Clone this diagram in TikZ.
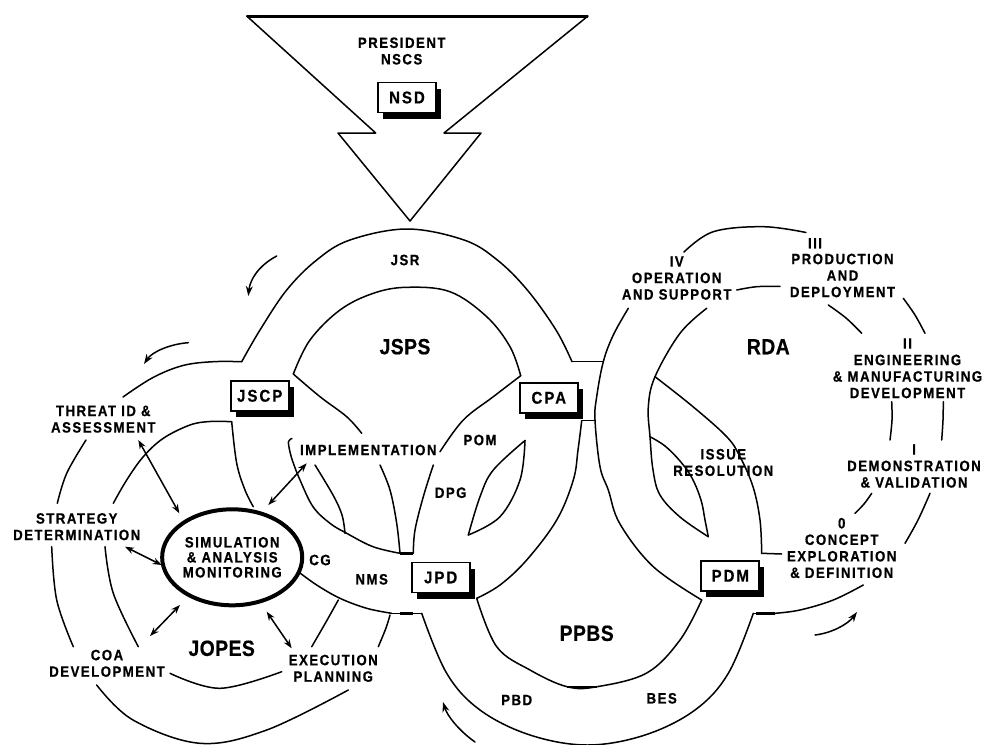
\documentclass[tikz,border=0pt]{standalone}
\usepackage{fontspec}
\newfontfamily\labf{Liberation Sans}[FakeStretch=0.88, LetterSpace=10, BoldFeatures={FakeBold=0.6}]
\newfontfamily\boxf{Liberation Sans}[FakeStretch=0.88, LetterSpace=12, BoldFeatures={FakeBold=0.6}]
\newfontfamily\bigf{Liberation Sans}[FakeStretch=0.88, LetterSpace=2, BoldFeatures={FakeBold=0.6}]
\usetikzlibrary{arrows.meta,shapes.geometric,shadows}
\begin{document}
\begin{tikzpicture}[x=1pt,y=-1pt,
  ln/.style={line width=1.5pt, line cap=round, line join=round},
  thk/.style={line width=3pt},
  lab/.style={font=\labf\bfseries\fontsize{15}{16.5}\selectfont, align=center, inner sep=0pt},
  biglab/.style={font=\bigf\bfseries\fontsize{22}{24}\selectfont, inner sep=0pt},
  boxn/.style={draw, line width=1.8pt, fill=white, minimum width=58pt, minimum height=30pt, inner sep=0pt,
    font=\boxf\bfseries\fontsize{17}{19}\selectfont,
    drop shadow={shadow xshift=5pt, shadow yshift=-6pt, opacity=1, fill=black}},
  dbl/.style={ln, {Stealth[length=9pt,width=6.5pt]}-{Stealth[length=9pt,width=6.5pt]}},
  flow/.style={ln, -{Stealth[length=10pt,width=7pt]}},
  sm/.style={ln}
]
\useasboundingbox (0,0) rectangle (984,744);

% ---------- top arrow (President / NSCS)
\draw[ln] (246.7,16) -- (375.7,133) -- (338,133) -- (410,221) -- (481,133) -- (444,133) -- (588,16);
\draw[thk] (246.7,16) -- (588,16);

% ---------- JSPS
\draw[sm] plot[smooth,tension=0.6] coordinates {(241.7,361.7) (260,330) (286.7,290) (316.7,260) (350,240) (407,229) (464,240) (497.3,260) (527.3,290) (556,330) (572,361.7)};
\draw[ln] (572,361.7) -- (603.3,361.7);
\draw[sm] plot[smooth,tension=0.6] coordinates {(293.3,374) (310,340) (340,310) (373.3,293.3) (406.7,287.3) (450,291.7) (486.7,316.7) (510,346.7) (520.7,375.7)};
\draw[sm] plot[smooth,tension=0.6] coordinates {(293.3,374) (320,396.7) (346.7,416.7) (361.7,433.3)};
\draw[sm] plot[smooth,tension=0.6] coordinates {(380,465) (390,490) (396.7,523.3) (400,553.3)};
\draw[sm] plot[smooth,tension=0.6] coordinates {(520.7,375.7) (493.3,396.7) (463.3,420) (440,451.7)};
\draw[sm] plot[smooth,tension=0.6] coordinates {(433.3,465) (423.3,496.7) (415,530) (413.3,553.3)};
\draw[thk] (400,553.3) -- (413.3,553.3);
% DPG / POM lens
\draw[sm] plot[smooth,tension=0.6] coordinates {(525,440.5) (493.3,470) (480,496.7) (468.3,535)};
\draw[sm] plot[smooth,tension=0.6] coordinates {(525,440.5) (520,480) (500,516.7) (468.3,535)};

% ---------- JOPES
\draw[sm] plot[smooth,tension=0.6] coordinates {(241.7,361.7) (213,361.7) (183,365.5) (153,377.5) (123,397)};
\draw[sm] plot[smooth,tension=0.6] coordinates {(86,440) (66.7,473.3) (57.3,503.3)};
\draw[sm] plot[smooth,tension=0.6] coordinates {(51.7,546.7) (56.7,600) (73.3,646.7)};
\draw[sm] plot[smooth,tension=0.6] coordinates {(96.7,685) (133,720) (200,743.3) (266.7,730) (348.3,690)};
\draw[sm] plot[smooth,tension=0.6] coordinates {(378.3,646.7) (386,628) (390,615)};
\draw[sm] plot[smooth,tension=0.6] coordinates {(231.7,421.7) (210,421.5) (190,425) (163.3,438.3) (143.3,456.7) (126.7,480) (113.3,503.3)};
\draw[sm] plot[smooth,tension=0.6] coordinates {(105,546.7) (113.3,593.3) (138.3,646.7)};
\draw[sm] plot[smooth,tension=0.6] coordinates {(170,673.3) (220,688.3) (281.7,671.7)};
\draw[sm] plot[smooth,tension=0.6] coordinates {(311.7,646.7) (326,622) (338.3,600)};
\draw[sm] plot[smooth,tension=0.6] coordinates {(231.7,421.7) (236.7,463.3) (245,490) (253.3,506.7)};
\draw[sm] plot[smooth,tension=0.6] coordinates {(292,438.5) (288.5,441.5) (290,452) (293.3,463) (300,480) (313,506.7) (330,523.3) (346.7,533.3) (373,546.7) (400,553.3)};
\draw[sm] plot[smooth,tension=0.6] coordinates {(315,465) (333,495) (342,515) (345,533.3)};
\draw[sm] plot[smooth,tension=0.6] coordinates {(298.3,571.7) (316.7,585) (340,598.3) (366.7,608.3) (391.7,613.3)};
\draw[ln] (391.7,613.3) -- (421.7,613.3);
\draw[thk] (400,613.3) -- (413,613.3);

% ---------- PPBS
\draw[sm] plot[smooth,tension=0.6] coordinates {(421.7,613.3) (446.7,673.3) (480,710) (530,735) (587.5,745) (645,735) (695,710) (728.3,673.3) (753.3,613.3)};
\draw[sm] plot[smooth,tension=0.6] coordinates {(476.7,598.3) (496.7,646.7) (530,670) (567,686.7) (597,686.7) (646.7,673) (680,640) (701.7,600)};
\draw[line width=2.2pt] (567,686.7) -- (597,686.7);
\draw[sm] plot[smooth,tension=0.6] coordinates {(581.7,420.7) (578,450) (573.3,480) (556.7,520) (526.7,560) (500,585) (476.7,598.3)};
\draw[ln] (581.7,420.7) -- (595,420.7);
\draw[ln] (753.3,613.3) -- (775,613.3);
\draw[thk] (756,613.3) -- (775,613.3);

% ---------- RDA
\draw[sm] plot[smooth,tension=0.6] coordinates {(628.3,308.3) (613.3,335) (603.3,361.7) (596.7,396.7) (595,420) (600,466.7) (608.3,490) (620,524) (653.3,566.7) (701.7,600)};
\draw[sm] plot[smooth,tension=0.6] coordinates {(684,252) (713.3,231.7) (763.3,226.7) (806,232.5)};
\draw[sm] plot[smooth,tension=0.6] coordinates {(736.7,290) (756.7,286.7) (780,286.3)};
\draw[sm] plot[smooth,tension=0.6] coordinates {(903.3,298.3) (915,315) (925,333.3)};
\draw[sm] plot[smooth,tension=0.6] coordinates {(828.3,305) (846,318) (861.7,333.3)};
\draw[sm] plot[smooth,tension=0.6] coordinates {(891.7,401.7) (892,420) (890,440)};
\draw[sm] plot[smooth,tension=0.6] coordinates {(943.3,401.7) (943,420) (941.7,440)};
\draw[sm] plot[smooth,tension=0.6] coordinates {(871.7,493.3) (864,504) (855,513.3)};
\draw[sm] plot[smooth,tension=0.6] coordinates {(930,493.3) (918,520) (905,543.3)};
\draw[sm] plot[smooth,tension=0.6] coordinates {(775,613.3) (800,610) (833.3,600) (863.3,585)};
\draw[sm] plot[smooth,tension=0.6] coordinates {(706.7,308.3) (680,333.3) (655,376.7) (648.3,406.7) (650,436.7) (653,470) (660,495) (680,517) (708.3,536.7)};
\draw[sm] plot[smooth,tension=0.6] coordinates {(650,436.7) (665,446) (680,461) (692,478) (701,500) (705,520) (708.3,536.7)};
\draw[sm] plot[smooth,tension=0.6] coordinates {(655,376.7) (693,406.7) (726.7,436.7) (740,456.7) (753,486.7) (760,520) (761.7,553.3)};
\draw[ln] (761.7,553.3) -- (781.7,554);

% ---------- boxes
\node[boxn] (nsd) at (407,97.5) {NSD};
\node[boxn] (jscp) at (259.7,395.8) {JSCP};
\node[boxn] (cpa) at (548.8,397.8) {CPA};
\node[boxn] (jpd) at (440.7,577.5) {JPD};
\node[boxn] (pdm) at (730.3,575.8) {PDM};

% ---------- ellipse
\node[draw, ellipse, line width=4pt, minimum width=127pt, minimum height=96pt, inner sep=0pt, lab, font=\labf\bfseries\fontsize{15}{15}\selectfont] (sim) at (232.2,557.3) {SIMULATION\\\& ANALYSIS\\MONITORING};

% ---------- labels
\node[lab] (pres) at (401.7,51) {PRESIDENT\\NSCS};
\node[lab] (jsr) at (405,260) {JSR};
\node[biglab] (jsps) at (405,346.7) {JSPS};
\node[biglab] (jopes) at (221.7,648.3) {JOPES};
\node[biglab] (ppbs) at (586.7,633.3) {PPBS};
\node[biglab] (rda) at (768.3,346.7) {RDA};
\node[lab] (threat) at (103.3,419.2) {THREAT ID \&\\ASSESSMENT};
\node[lab] (strat) at (76.7,526.7) {STRATEGY\\DETERMINATION};
\node[lab] (coa) at (107,663.3) {COA\\DEVELOPMENT};
\node[lab] (exec) at (333.3,668.3) {EXECUTION\\PLANNING};
\node[lab] (impl) at (368.3,450) {IMPLEMENTATION};
\node[lab] (pom) at (480,440) {POM};
\node[lab] (dpg) at (450.7,492.7) {DPG};
\node[lab] (cg) at (320,560) {CG};
\node[lab] (nms) at (371.7,579.3) {NMS};
\node[lab] (pbd) at (516.7,700) {PBD};
\node[lab] (bes) at (661.7,698.3) {BES};
\node[lab] (issue) at (723.3,462.5) {ISSUE\\RESOLUTION};
\node[lab] (iv) at (676.7,278) {IV\\OPERATION\\AND SUPPORT};
\node[lab] (iii) at (815,243.3) {III};
\node[lab] (prod) at (842.5,275.5) {PRODUCTION\\AND\\DEPLOYMENT};
\node[lab] (ii) at (907.5,368.3) {II\\ENGINEERING\\\& MANUFACTURING\\DEVELOPMENT};
\node[lab] (i) at (914,466) {I\\DEMONSTRATION\\\& VALIDATION};
\node[lab] (zero) at (841.7,548) {0\\CONCEPT\\EXPLORATION\\\& DEFINITION};

% ---------- double arrows
\coordinate (tA) at (138.3,440);   \coordinate (tB) at (179.3,513.3);
\coordinate (sA) at (125,546.7);   \coordinate (sB) at (161.7,565);
\coordinate (cA) at (150,636);     \coordinate (cB) at (180,605);
\coordinate (eA) at (291.7,648.3); \coordinate (eB) at (266.7,611.7);
\coordinate (iA) at (306.7,463.3); \coordinate (iB) at (268.3,505);
\draw[dbl] (tA) -- (tB);
\draw[dbl] (sA) -- (sB);
\draw[dbl] (cA) -- (cB);
\draw[dbl] (eA) -- (eB);
\draw[dbl] (iA) -- (iB);

% ---------- flow arrows
\coordinate (f1a) at (276.7,256); \coordinate (f1b) at (248.3,296);
\coordinate (f2a) at (188.3,342.7); \coordinate (f2b) at (144,364);
\coordinate (f3a) at (475,742); \coordinate (f3b) at (443,702);
\coordinate (f4a) at (815,635); \coordinate (f4b) at (857,612);
\draw[flow] (f1a) .. controls (258,266) and (250,280) .. (f1b);
\draw[flow] (f2a) .. controls (170,344) and (152,352) .. (f2b);
\draw[flow] (f3a) .. controls (458,730) and (447,715) .. (f3b);
\draw[flow] (f4a) .. controls (832,633) and (848,624) .. (f4b);
\end{tikzpicture}
\end{document}
